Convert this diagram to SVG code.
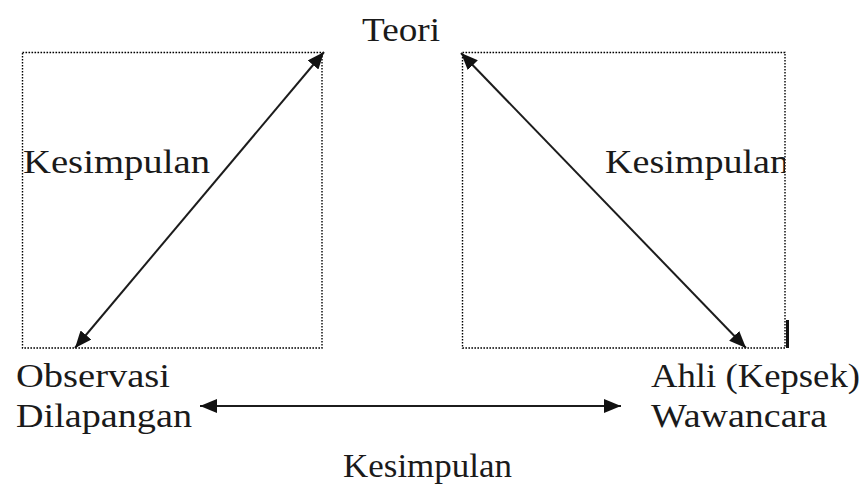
<svg xmlns="http://www.w3.org/2000/svg" width="867" height="486" viewBox="0 0 867 486">
  <style>
    text { font-family: 'Liberation Serif', 'Times New Roman', Times, serif; font-size: 34px; fill: #1a1a1a; }
    .frame { fill: none; stroke: #000; stroke-width: 1.4; stroke-dasharray: 1.6 1.4; }
    .link { stroke: #1c1c1c; stroke-width: 2; fill: none; marker-start: url(#head); marker-end: url(#head); }
  </style>
  <defs>
    <marker id="head" markerUnits="userSpaceOnUse" markerWidth="18" markerHeight="14" refX="17" refY="7" orient="auto-start-reverse">
      <path d="M0,0 L17,7 L0,14 Z" fill="#111"/>
    </marker>
    <clipPath id="rightFrameClip">
      <rect x="462" y="52" width="323" height="296"/>
    </clipPath>
  </defs>
  <rect width="867" height="486" fill="#fff"/>

  <!-- dotted frames -->
  <g id="frames">
    <rect class="frame" x="22.5" y="52.5" width="299.5" height="295.5"/>
    <rect class="frame" x="462.5" y="52.5" width="322.5" height="295.5"/>
    <rect x="786" y="320" width="3" height="28" fill="#111"/>
  </g>

  <!-- connectors -->
  <g id="connectors">
    <line class="link" x1="324" y1="52" x2="75" y2="348"/>
    <line class="link" x1="461" y1="53" x2="746" y2="348"/>
    <line class="link" x1="200" y1="406" x2="621" y2="406"/>
  </g>

  <g id="teori">
    <text x="362" y="41" textLength="78" lengthAdjust="spacingAndGlyphs">Teori</text>
  </g>
  <g id="observasi">
    <text x="16" y="387" textLength="154" lengthAdjust="spacingAndGlyphs">Observasi</text>
    <text x="16" y="427" textLength="176" lengthAdjust="spacingAndGlyphs">Dilapangan</text>
  </g>
  <g id="ahli">
    <text x="651" y="387" textLength="209" lengthAdjust="spacingAndGlyphs">Ahli (Kepsek)</text>
    <text x="651" y="427" textLength="176" lengthAdjust="spacingAndGlyphs">Wawancara</text>
  </g>

  <!-- edge labels -->
  <g id="labels">
    <text x="23" y="173" textLength="187" lengthAdjust="spacingAndGlyphs">Kesimpulan</text>
    <text x="605" y="173" textLength="184" lengthAdjust="spacingAndGlyphs" clip-path="url(#rightFrameClip)">Kesimpulan</text>
    <text x="343" y="477" textLength="169" lengthAdjust="spacingAndGlyphs">Kesimpulan</text>
  </g>
</svg>
